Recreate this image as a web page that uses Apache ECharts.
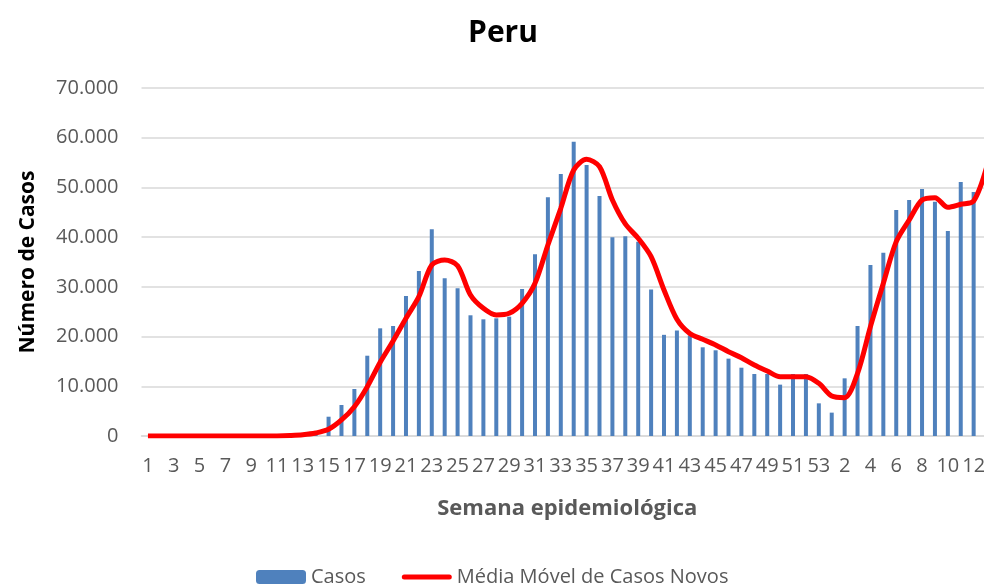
<!DOCTYPE html>
<html>
    <head>
        <meta charset="utf-8">
        <title>Peru</title>
        <script src="https://cdn.jsdelivr.net/npm/echarts@6/dist/echarts.min.js"></script>
        <style>
            html, body { margin: 0; padding: 0; background: #fff; overflow: hidden; }
            /* o gráfico original está cortado à direita: a área continua além da janela */
            #chart1 { width: 993px; height: 588px; }
        </style>
    </head>
    <body>
        <div id="chart1"></div>
    </body>
    <script type="text/javascript">
        // semanas epidemiológicas: 2020 (1..53) e 2021 (1..13)
        var semanas2020 = [];
        for (var i = 1; i <= 53; i++) semanas2020.push(String(i));
        var semanas2021 = ['1','2','3','4','5','6','7','8','9','10','11','12','13'];
        var semanas = semanas2020.concat(semanas2021);

        // casos novos por semana
        var casos2020 = [
            0, 0, 0, 0, 0, 0, 0, 0, 0, 10,
            100, 350, 600, 900, 3880, 6240, 9460, 16150, 21660, 22130,
            28160, 33190, 41580, 31720, 29700, 24280, 23470, 23670, 24000, 29570,
            36550, 48010, 52700, 59200, 54500, 48280, 39970, 40170, 39090, 29470,
            20350, 21220, 20220, 17840, 17240, 15560, 13740, 12470, 12470, 10330,
            12470, 12470, 6570
        ];
        var casos2021 = [4700, 11600, 22130, 34400, 36880, 45460, 47470, 49690, 47130, 41240, 51100, 49090, 56000];

        // média móvel de casos novos
        var media2020 = [
            0, 0, 0, 0, 0, 0, 0, 0, 0, 0,
            20, 100, 250, 600, 1340, 3220, 5900, 9920, 14830, 19110,
            23680, 28030, 34400, 35400, 34260, 28370, 25690, 24340, 24680, 26700,
            30720, 38420, 45800, 53510, 55660, 54180, 47470, 42650, 39770, 36070,
            29370, 23470, 20600, 19450, 18310, 16960, 15750, 14280, 13080, 11930,
            11930, 11930, 10600
        ];
        var media2021 = [8050, 7710, 12610, 22000, 30720, 39090, 43450, 47470, 47940, 46010, 46610, 47270, 54000];

        var yTicks = [0, 10000, 20000, 30000, 40000, 50000, 60000, 70000];

        var casos = casos2020.concat(casos2021);
        var media = media2020.concat(media2021);

        var cinza = '#595959';
        var fonte = '"Open Sans", sans-serif';

        var myChart1 = echarts.init(document.getElementById('chart1'));
        myChart1.setOption({
            animation: false,
            title: {
                text: 'Peru',
                left: 498,
                top: 13,
                textAlign: 'center',
                textStyle: { fontFamily: fonte, fontSize: 30, fontWeight: 'bold', color: '#000' }
            },
            grid: { left: 141.5, right: 0, top: 88, bottom: 152 },
            legend: {
                top: 562,
                left: 251,
                itemGap: 36,
                itemWidth: 50,
                itemHeight: 14,
                textStyle: { fontFamily: fonte, fontSize: 20, color: cinza },
                data: [
                    { name: 'Casos' },
                    { name: 'Média Móvel de Casos Novos', icon: 'path://M2.5,0L47.5,0A2.5,2.5,0,0,1,47.5,5L2.5,5A2.5,2.5,0,0,1,2.5,0Z' }
                ]
            },
            xAxis: {
                type: 'category',
                data: semanas,
                name: 'Semana epidemiológica',
                nameLocation: 'middle',
                nameGap: 62,
                nameTextStyle: { fontFamily: fonte, fontSize: 22, fontWeight: 'bold', color: cinza },
                axisLine: { lineStyle: { color: '#d9d9d9', width: 1.5 } },
                axisTick: { show: false },
                axisLabel: { interval: 1, margin: 20, fontFamily: fonte, fontSize: 20, color: cinza }
            },
            yAxis: {
                type: 'value',
                min: yTicks[0],
                max: yTicks[yTicks.length - 1],
                interval: 10000,
                name: 'Número de Casos',
                nameLocation: 'middle',
                nameGap: 103,
                nameTextStyle: { fontFamily: fonte, fontSize: 21, fontWeight: 'bold', color: '#000' },
                axisLabel: {
                    margin: 23,
                    fontFamily: fonte,
                    fontSize: 20,
                    color: cinza,
                    formatter: function (v) {
                        return String(v).replace(/\B(?=(\d{3})+(?!\d))/g, '.');
                    }
                },
                splitLine: { lineStyle: { color: '#d9d9d9', width: 1.5 } }
            },
            series: [
                {
                    name: 'Casos',
                    type: 'bar',
                    data: casos,
                    barWidth: 4,
                    itemStyle: { color: '#4f81bd' }
                },
                {
                    name: 'Média Móvel de Casos Novos',
                    type: 'line',
                    data: media,
                    smooth: 0.3,
                    showSymbol: false,
                    symbol: 'none',
                    lineStyle: { color: '#ff0000', width: 5 },
                    itemStyle: { color: '#ff0000' }
                }
            ]
        });
    </script>
</html>
